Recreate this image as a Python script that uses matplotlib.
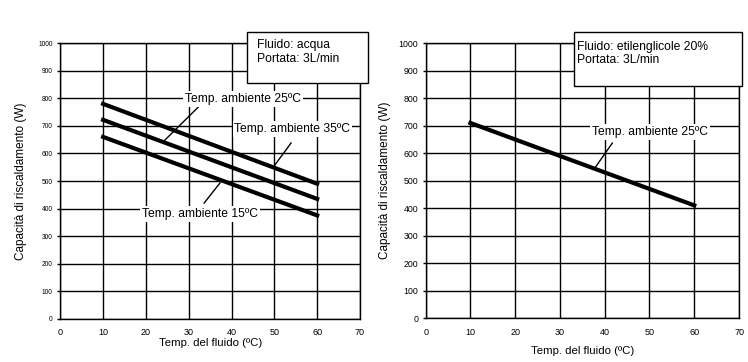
import matplotlib
matplotlib.use("Agg")
import matplotlib.pyplot as plt
from matplotlib.patches import Rectangle

plt.rcParams["font.family"] = ["Liberation Sans", "DejaVu Sans"]

# ==================== データ ====================
FLUID_TEMP = [10, 60]

# 左: 水
WATER_35 = [780, 490]
WATER_25 = [722, 435]
WATER_15 = [660, 375]

# 右: エチレングリコール 20%
GLYCOL_25 = [710, 410]

X_TICKS = list(range(0, 71, 10))
Y_TICKS = list(range(0, 1001, 100))

YLABEL = "Capacità di riscaldamento (W)"
XLABEL = "Temp. del fluido (ºC)"


def setup_axes(ax, ytick_size, xlabelpad, ylabelpad):
    ax.set_xlim(0, 70)
    ax.set_ylim(0, 1000)
    ax.set_xticks(X_TICKS)
    ax.set_yticks(Y_TICKS)
    ax.grid(True, color="black", linewidth=1.0)
    ax.set_axisbelow(True)
    for s in ax.spines.values():
        s.set_linewidth(1.0)
    ax.tick_params(axis="x", labelsize=6.5, length=0, pad=7)
    ax.tick_params(axis="y", labelsize=ytick_size, length=2.5, width=1.0, pad=3)
    ax.set_ylabel(YLABEL, fontsize=8.5, labelpad=ylabelpad)
    ax.set_xlabel(XLABEL, fontsize=8.2, labelpad=xlabelpad)


def label(ax, text, xy_text, xy_start, xy_end):
    ax.plot([xy_start[0], xy_end[0]], [xy_start[1], xy_end[1]],
            color="black", linewidth=1.0, zorder=4)
    ax.text(xy_text[0], xy_text[1], text, fontsize=8.7, ha="center", va="center",
            bbox=dict(boxstyle="square,pad=0.15", facecolor="white", edgecolor="none"),
            zorder=5)


def info_box(ax, x0, x1, y0, y1, lines, tx, ty):
    ax.add_patch(Rectangle((x0, y0), x1 - x0, y1 - y0, transform=ax.transAxes,
                           facecolor="white", edgecolor="black", linewidth=1.0,
                           clip_on=False, zorder=6))
    ax.text(tx, ty, "\n".join(lines), transform=ax.transAxes, fontsize=8.7,
            ha="left", va="top", linespacing=1.15, zorder=7, clip_on=False)


fig = plt.figure(figsize=(7.48, 3.62), dpi=100)
ax1 = fig.add_axes([0.0806, 0.1196, 0.4007, 0.7608])
ax2 = fig.add_axes([0.5691, 0.1215, 0.4189, 0.7588])

# ---- 左 ----
setup_axes(ax1, 4.8, 0.5, 8)
for vals in (WATER_35, WATER_25, WATER_15):
    ax1.plot(FLUID_TEMP, vals, color="black", linewidth=3.0, zorder=3)
label(ax1, "Temp. ambiente 25ºC", (42.7, 798), (32.2, 768), (24.0, 642))
label(ax1, "Temp. ambiente 35ºC", (54.2, 689), (53.9, 638), (50.1, 558))
label(ax1, "Temp. ambiente 15ºC", (32.6, 380), (33.6, 420), (37.3, 493))
info_box(ax1, 0.624, 1.028, 0.857, 1.042,
         ["Fluido: acqua", "Portata: 3L/min"], 0.655, 1.015)

# ---- 右 ----
setup_axes(ax2, 6.3, 6.5, 5)
ax2.plot(FLUID_TEMP, GLYCOL_25, color="black", linewidth=3.0, zorder=3)
label(ax2, "Temp. ambiente 25ºC", (50.1, 677), (41.7, 637), (38.0, 551))
info_box(ax2, 0.473, 1.009, 0.845, 1.042,
         ["Fluido: etilenglicole 20%", "Portata: 3L/min"], 0.484, 1.008)

fig.savefig("out.png", dpi=100, facecolor="white")
